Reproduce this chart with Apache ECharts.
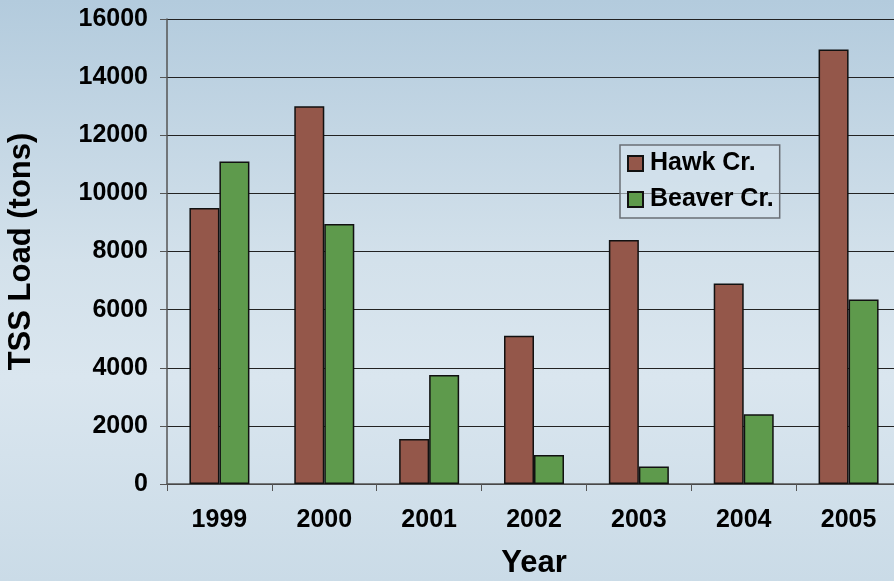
<!DOCTYPE html>
<html>
<head>
<meta charset="utf-8">
<script src="https://cdn.jsdelivr.net/npm/echarts@6/dist/echarts.min.js"></script>
<style>
html,body{margin:0;padding:0;}
#c{width:894px;height:581px;background:linear-gradient(to bottom,#b3cbdd 0%,#d3e1eb 45%,#dae6ef 65%,#cadbe7 100%);}
</style>
</head>
<body>
<div id="c"></div>
<script>
const years = ['1999','2000','2001','2002','2003','2004','2005'];
const hawk = [9500, 13000, 1550, 5100, 8400, 6900, 14950];
const beaver = [11100, 8950, 3750, 1000, 600, 2400, 6350];
const seriesNames = ['Hawk Cr.', 'Beaver Cr.'];

const font = 'Liberation Sans, Arial, sans-serif';
const chart = echarts.init(document.getElementById('c'));
chart.setOption({
  backgroundColor: 'transparent',
  animation: false,
  grid: {left: 167, top: 19, width: 734, bottom: 97, containLabel: false, outerBoundsMode: 'none'},
  legend: {
    orient: 'vertical',
    left: 620, top: 145,
    padding: [6, 6, 6, 7],
    itemGap: 11,
    icon: 'rect',
    itemWidth: 15, itemHeight: 15,
    borderColor: '#6a6f75', borderWidth: 1.5,
    backgroundColor: 'rgba(215,228,238,0.6)',
    textStyle: {fontFamily: font, fontWeight: 'bold', fontSize: 25, color: '#000', padding: [0,0,0,2]},
    data: seriesNames
  },
  xAxis: {
    type: 'category', data: years,
    name: 'Year', nameLocation: 'middle', nameGap: 64,
    nameTextStyle: {fontFamily: font, fontWeight: 'bold', fontSize: 31, color: '#000'},
    axisLine: {lineStyle: {color: '#555', width: 1.5}},
    axisTick: {show: true, length: 7, inside: false, lineStyle: {color: '#555'}},
    axisLabel: {fontFamily: font, fontWeight: 'bold', fontSize: 25, color: '#000', margin: 24}
  },
  yAxis: {
    type: 'value', min: 0, max: 16000, interval: 2000,
    name: 'TSS Load (tons)', nameLocation: 'middle', nameGap: 130, nameRotate: 90,
    nameTextStyle: {fontFamily: font, fontWeight: 'bold', fontSize: 31, color: '#000'},
    axisLine: {show: true, lineStyle: {color: '#555', width: 1.5}},
    axisTick: {show: true, length: 7, lineStyle: {color: '#555'}},
    axisLabel: {fontFamily: font, fontWeight: 'bold', fontSize: 25, color: '#000', margin: 19,
                formatter: v => String(v)},
    splitLine: {lineStyle: {color: '#222', width: 1}}
  },
  series: [
    {name: seriesNames[0], type: 'bar', data: hawk, barWidth: 30, barGap: '0%',
     itemStyle: {color: '#94574a', borderColor: '#111', borderWidth: 1.5}},
    {name: seriesNames[1], type: 'bar', data: beaver, barWidth: 30, barGap: '0%',
     itemStyle: {color: '#5e9a4c', borderColor: '#111', borderWidth: 1.5}}
  ]
});
</script>
</body>
</html>
